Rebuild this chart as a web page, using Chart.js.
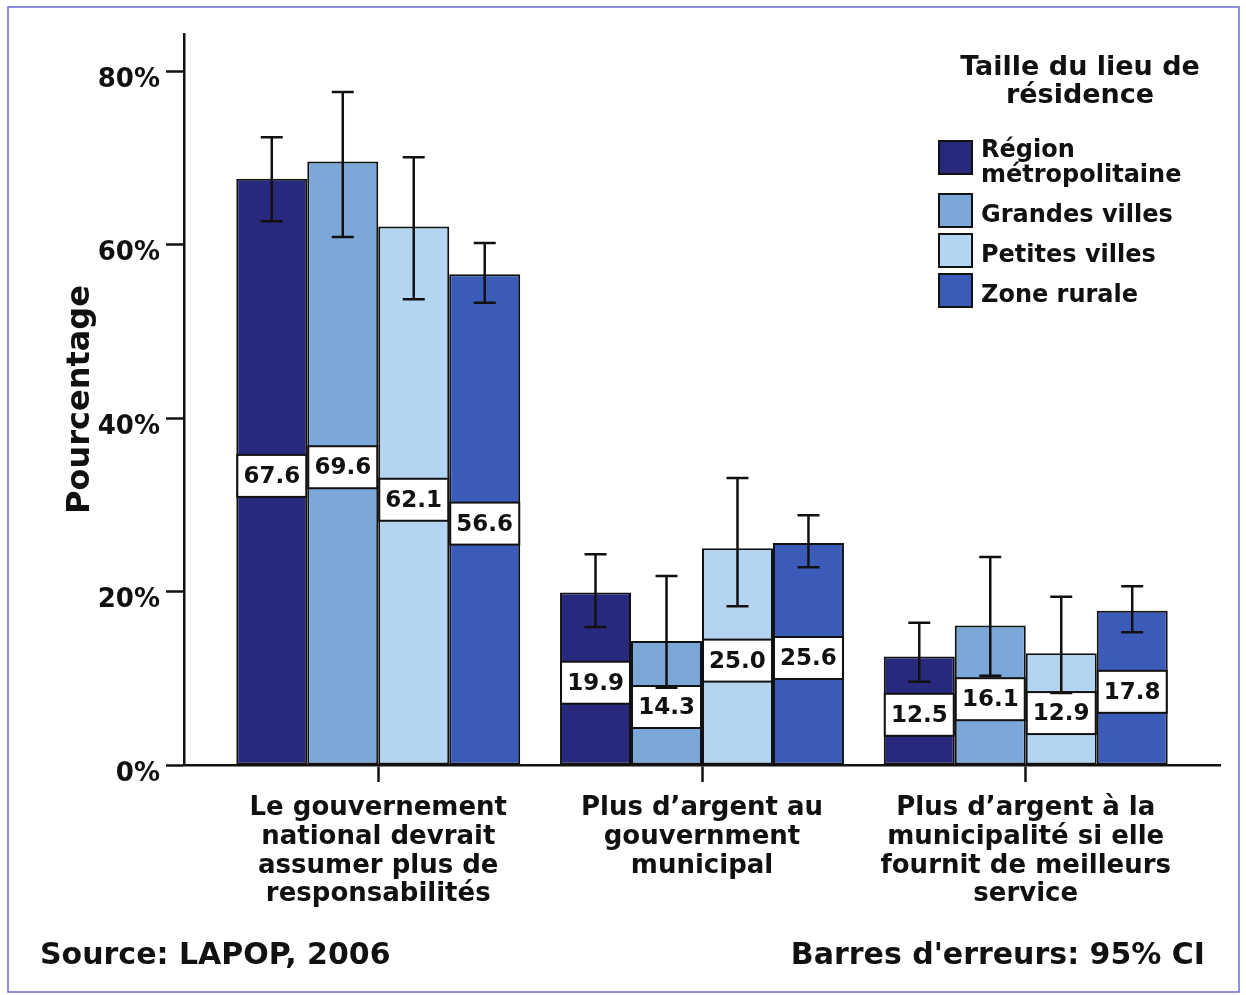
<!DOCTYPE html>
<html>
<head>
<meta charset="utf-8">
<script src="https://cdn.jsdelivr.net/npm/chart.js@4.4.1/dist/chart.umd.min.js"></script>
<style>
  html, body { margin: 0; padding: 0; background: #ffffff; }
  canvas { display: block; }
</style>
</head>
<body>
<canvas id="chart" width="1246" height="995"></canvas>
<script>
// ---------- DATA ----------
const categories = [
  ['Le gouvernement', 'national devrait', 'assumer plus de', 'responsabilités'],
  ['Plus d\u2019argent au', 'gouvernment', 'municipal'],
  ['Plus d\u2019argent à la', 'municipalité si elle', 'fournit de meilleurs', 'service']
];
const seriesNames = ['Région métropolitaine', 'Grandes villes', 'Petites villes', 'Zone rurale'];
const metroValues   = [67.6, 19.9, 12.5];
const grandesValues = [69.6, 14.3, 16.1];
const petitesValues = [62.1, 25.0, 12.9];
const ruraleValues  = [56.6, 25.6, 17.8];
// 95% CI [lower, upper]
const metroCI   = [[62.7, 72.4], [15.9, 24.3], [9.6, 16.4]];
const grandesCI = [[60.9, 77.6], [8.9, 21.8], [10.3, 24.0]];
const petitesCI = [[53.7, 70.1], [18.3, 33.1], [8.3, 19.4]];
const ruraleCI  = [[53.3, 60.2], [22.8, 28.8], [15.3, 20.6]];
const yTickValues = [0, 20, 40, 60, 80];
const yAxisTitle = 'Pourcentage';
const legendTitle = ['Taille du lieu de', 'résidence'];
const sourceText = 'Source: LAPOP, 2006';
const ciText = "Barres d'erreurs: 95% CI";

// ---------- STYLE ----------
const seriesColors = ['#27297c', '#7ca7d9', '#b3d5f2', '#3b5bb8'];
const FONT = '"DejaVu Sans", sans-serif';
const INK = '#111111';

const allValues = [metroValues, grandesValues, petitesValues, ruraleValues];
const allCI = [metroCI, grandesCI, petitesCI, ruraleCI];

const datasets = seriesNames.map((name, i) => ({
  label: name,
  data: allValues[i],
  ci: allCI[i],
  backgroundColor: seriesColors[i],
  borderColor: INK,
  borderWidth: 2,
  borderSkipped: false,
  barPercentage: 1.0,
  categoryPercentage: 0.877
}));

const framePlugin = {
  id: 'frame',
  beforeDraw(chart) {
    const ctx = chart.ctx;
    ctx.save();
    ctx.fillStyle = '#ffffff';
    ctx.fillRect(0, 0, chart.width, chart.height);
    ctx.strokeStyle = '#6a6ad0';
    ctx.lineWidth = 1.5;
    ctx.strokeRect(8, 7, chart.width - 15, chart.height - 10);
    ctx.restore();
  }
};

const barAnnotations = {
  id: 'barAnnotations',
  afterDatasetsDraw(chart) {
    const ctx = chart.ctx;
    const yScale = chart.scales.y;
    ctx.save();
    // value label boxes
    chart.data.datasets.forEach((ds, i) => {
      const meta = chart.getDatasetMeta(i);
      meta.data.forEach((bar, j) => {
        const v = ds.data[j];
        const cy = yScale.getPixelForValue(v / 2) + 4;
        const h = 42;
        const left = bar.x - bar.width / 2 + 1;
        const w = bar.width - 2;
        ctx.fillStyle = '#ffffff';
        ctx.fillRect(left, cy - h / 2, w, h);
        ctx.strokeStyle = INK;
        ctx.lineWidth = 2;
        ctx.strokeRect(left, cy - h / 2, w, h);
        ctx.fillStyle = INK;
        ctx.font = 'bold 23px ' + FONT;
        ctx.textAlign = 'center';
        ctx.textBaseline = 'middle';
        ctx.fillText(v.toFixed(1), bar.x, cy + 1);
      });
    });
    // error bars
    chart.data.datasets.forEach((ds, i) => {
      const meta = chart.getDatasetMeta(i);
      meta.data.forEach((bar, j) => {
        const [lo, hi] = ds.ci[j];
        const yLo = yScale.getPixelForValue(lo);
        const yHi = yScale.getPixelForValue(hi);
        ctx.strokeStyle = INK;
        ctx.lineWidth = 2.5;
        ctx.beginPath();
        ctx.moveTo(bar.x, yLo); ctx.lineTo(bar.x, yHi);
        ctx.moveTo(bar.x - 11, yLo); ctx.lineTo(bar.x + 11, yLo);
        ctx.moveTo(bar.x - 11, yHi); ctx.lineTo(bar.x + 11, yHi);
        ctx.stroke();
      });
    });
    ctx.restore();
  }
};

function wrapText(ctx, text, maxWidth) {
  const words = text.split(' ');
  const lines = [];
  let cur = '';
  words.forEach(w => {
    const test = cur ? cur + ' ' + w : w;
    if (ctx.measureText(test).width > maxWidth && cur) { lines.push(cur); cur = w; }
    else cur = test;
  });
  if (cur) lines.push(cur);
  return lines;
}

const legendFooter = {
  id: 'legendFooter',
  afterDraw(chart) {
    const ctx = chart.ctx;
    ctx.save();
    ctx.fillStyle = INK;
    // legend title
    ctx.font = 'bold 27px ' + FONT;
    ctx.textAlign = 'center';
    ctx.textBaseline = 'middle';
    legendTitle.forEach((t, k) => ctx.fillText(t, 1080, 68 + k * 28));
    // legend items
    ctx.font = 'bold 24px ' + FONT;
    ctx.textAlign = 'left';
    let top = 141;
    const box = 33, lh = 25;
    chart.data.datasets.forEach((ds) => {
      const lines = wrapText(ctx, ds.label, 215);
      ctx.fillStyle = ds.backgroundColor;
      ctx.fillRect(939, top, box, box);
      ctx.strokeStyle = INK;
      ctx.lineWidth = 2;
      ctx.strokeRect(939, top, box, box);
      ctx.fillStyle = INK;
      const center = top + box / 2 + 5.5;
      lines.forEach((ln, k) => {
        ctx.fillText(ln, 981, center + (k - (lines.length - 1) / 2) * lh);
      });
      top += Math.max(box, lines.length * lh - 4) + 7;
    });
    // footer
    ctx.font = 'bold 30px ' + FONT;
    ctx.textBaseline = 'alphabetic';
    ctx.textAlign = 'left';
    ctx.fillText(sourceText, 40, 964);
    ctx.textAlign = 'right';
    ctx.fillText(ciText, 1205, 964);
    ctx.restore();
  }
};

new Chart(document.getElementById('chart'), {
  type: 'bar',
  data: {
    labels: categories.map((_, i) => i),
    datasets: datasets
  },
  plugins: [framePlugin, barAnnotations, legendFooter],
  options: {
    responsive: false,
    animation: false,
    layout: { padding: { left: 0, right: 26, top: 34, bottom: 0 } },
    plugins: {
      legend: { display: false },
      tooltip: { enabled: false },
      title: { display: false }
    },
    scales: {
      x: {
        type: 'linear',
        min: -0.6,
        max: 2.6,
        offset: false,
        grid: {
          offset: false,
          drawOnChartArea: false,
          drawTicks: true,
          tickLength: 17,
          tickColor: INK,
          tickWidth: 2.5
        },
        border: { display: true, color: INK, width: 2.5 },
        afterBuildTicks(scale) {
          scale.ticks = categories.map((_, i) => ({ value: i }));
        },
        afterFit(scale) { scale.height = 230; },
        ticks: {
          autoSkip: false,
          maxRotation: 0,
          minRotation: 0,
          padding: 12,
          color: INK,
          font: { family: FONT, size: 26, weight: 'bold', lineHeight: 28.7 / 26 },
          callback: (value) => categories[value]
        }
      },
      y: {
        min: 0,
        max: 84.3,
        grid: {
          drawOnChartArea: false,
          drawTicks: true,
          tickLength: 18,
          tickColor: INK,
          tickWidth: 2.5
        },
        border: { display: true, color: INK, width: 2.5 },
        afterBuildTicks(scale) {
          scale.ticks = yTickValues.map(v => ({ value: v }));
        },
        afterFit(scale) { scale.width = 184; },
        title: {
          display: true,
          text: yAxisTitle,
          color: INK,
          font: { family: FONT, size: 32, weight: 'bold', lineHeight: 1 },
          padding: { top: 65, bottom: 0 }
        },
        ticks: {
          padding: 6,
          labelOffset: 9,
          color: INK,
          font: { family: FONT, size: 26, weight: 'bold' },
          callback: (value) => value + '%'
        }
      }
    }
  }
});
</script>
</body>
</html>
